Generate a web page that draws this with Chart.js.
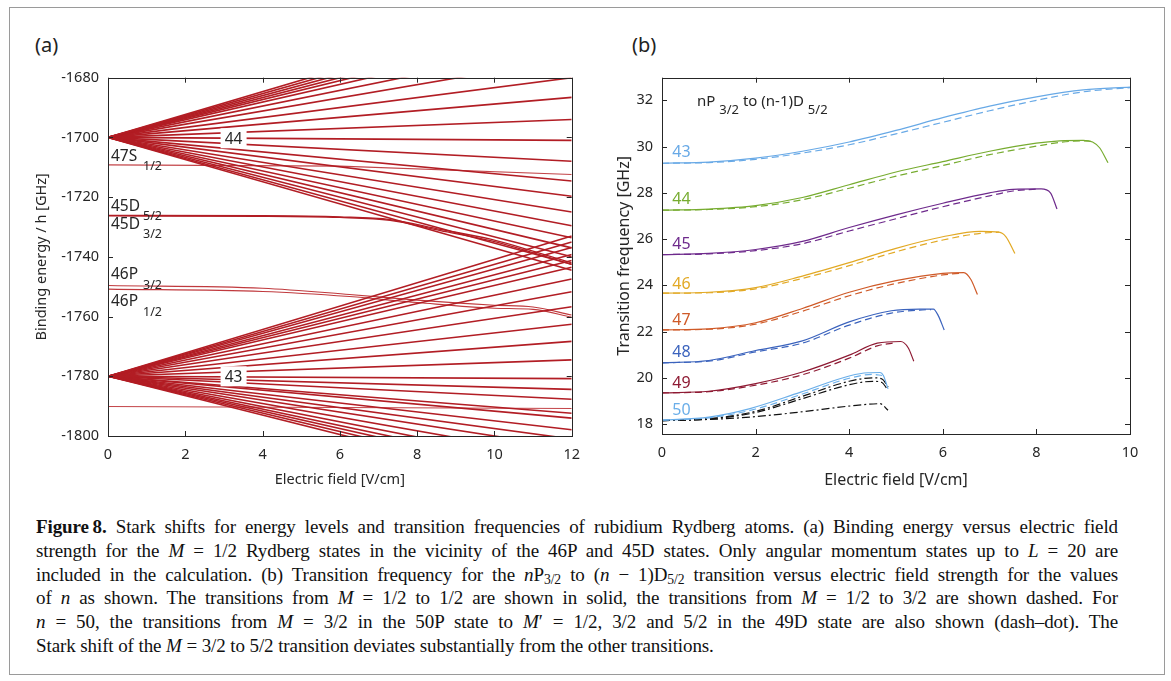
<!DOCTYPE html>
<html lang="en">
<head>
<meta charset="utf-8">
<title>Figure 8 - Stark shifts of Rb Rydberg states</title>
<script src="https://cdn.jsdelivr.net/npm/chart.js"></script>
<style>
  body { margin:0; background:#fff; width:1171px; height:681px; overflow:hidden; position:relative; font-family:"Noto Sans", sans-serif; }
  .frame { position:absolute; left:9px; top:7px; width:1156px; height:668px; border:1.5px solid #9a9a9a; box-sizing:border-box; }
  .wrap { position:absolute; top:60px; height:430px; }
  #wrapA { left:20px; width:570px; }
  #wrapB { left:590px; width:575px; }
  .panel { position:absolute; top:31px; font-size:20px; color:#222; }
  .caption { position:absolute; left:36px; top:515px; width:1082px; font-family:"Liberation Serif", serif; font-size:19px; letter-spacing:-0.1px; line-height:23.8px; color:#111; }
  .caption div { text-align:justify; text-align-last:justify; }
  .caption div.last { text-align-last:left; }
  .caption sub { font-size:0.72em; vertical-align:-0.25em; line-height:0; }
</style>
</head>
<body>
<div class="frame"></div>
<div class="panel" style="left:35px">(a)</div>
<div class="panel" style="left:632px">(b)</div>
<div class="wrap" id="wrapA"><canvas id="chartA" width="570" height="430"></canvas></div>
<div class="wrap" id="wrapB"><canvas id="chartB" width="575" height="430"></canvas></div>

<div class="caption">
  <div><b>Figure&#8201;8.</b> Stark shifts for energy levels and transition frequencies of rubidium Rydberg atoms. (a) Binding energy versus electric field</div>
  <div>strength for the <i>M</i> = 1/2 Rydberg states in the vicinity of the 46P and 45D states. Only angular momentum states up to <i>L</i> = 20 are</div>
  <div>included in the calculation. (b) Transition frequency for the <i>n</i>P<sub>3/2</sub> to (<i>n</i> − 1)D<sub>5/2</sub> transition versus electric field strength for the values</div>
  <div>of <i>n</i> as shown. The transitions from <i>M</i> = 1/2 to 1/2 are shown in solid, the transitions from <i>M</i> = 1/2 to 3/2 are shown dashed. For</div>
  <div><i>n</i> = 50, the transitions from <i>M</i> = 3/2 in the 50P state to <i>M</i>′ = 1/2, 3/2 and 5/2 in the 49D state are also shown (dash–dot). The</div>
  <div class="last">Stark shift of the <i>M</i> = 3/2 to 5/2 transition deviates substantially from the other transitions.</div>
</div>

<script>
// ---------- panel (a): binding energy vs field ----------
const fieldEnd = 12;
const fan44Center = -1700;
// value of each manifold line at 12 V/cm (lines leaving the box get clipped)
const fan44Ends = [-1654, -1656, -1658, -1660, -1662, -1664.5, -1668.5, -1673.5, -1680, -1686.6, -1694, -1701,
                   -1708, -1714.6, -1719.7, -1725, -1729.6, -1733.6, -1737, -1740, -1742.5, -1744.5];
const fan43Center = -1780;
const fan43Ends = [-1733, -1735, -1736.9, -1739.2, -1741.2, -1743.5, -1747.4, -1751.7, -1756.7, -1762.6, -1768.3, -1774.5, -1780.8,
                   -1784.4, -1787.7, -1792.4, -1794, -1797.9, -1801, -1804, -1807.4, -1810.5, -1813, -1815, -1817, -1819];

const s47E = [0, 6, 12];
const s47V = [-1709.2, -1709.6, -1712.4];
const d45E = [0, 4, 6, 7.3, 8.6, 9.9, 11.1, 12];
const d45aV = [-1726.1, -1726.2, -1726.6, -1727.5, -1730.8, -1734.1, -1738.5, -1742];
const d45bV = [-1726.3, -1726.4, -1726.8, -1727.8, -1731.2, -1734.6, -1739, -1742.6];
const p46E = [0, 4, 6.25, 8, 10, 11, 12];
const p46aV = [-1749.6, -1750.5, -1752.6, -1754.5, -1756.2, -1756.8, -1759.5];
const p46bV = [-1750.8, -1751.6, -1753.3, -1755.3, -1757.2, -1757.6, -1760.2];
const lowE = [0, 12];
const lowV = [-1790.1, -1790.8];

const fanLabelText = ['44', '43'];
const fanLabelE = [3.25, 3.25];
const fanLabelV = [-1700.3, -1780];
const stateMain = ['47S', '45D', '45D', '46P', '46P'];
const stateMainV = [-1706.5, -1723.1, -1729.2, -1746.1, -1755];
const stateSub = ['1/2', '5/2', '3/2', '3/2', '1/2'];
const stateSubV = [-1709.6, -1726.4, -1732.5, -1749.6, -1758.5];

const yTicksA = [-1800, -1780, -1760, -1740, -1720, -1700, -1680];
const xTicksA = [0, 2, 4, 6, 8, 10, 12];

// ---------- panel (b): transition frequency vs field ----------
const e43 = [0, 1, 2, 3, 4, 5, 6, 7, 8, 9, 10];
const f43 = [29.28, 29.33, 29.5, 29.8, 30.2, 30.7, 31.25, 31.75, 32.15, 32.45, 32.57];
const f43d = [29.28, 29.31, 29.45, 29.72, 30.08, 30.55, 31.05, 31.55, 32.0, 32.37, 32.55];

const e44 = [0, 1, 2, 3, 4, 5, 6, 7, 8, 8.5, 9, 9.2, 9.35, 9.53];
const f44 = [27.25, 27.3, 27.45, 27.8, 28.35, 28.9, 29.35, 29.8, 30.15, 30.25, 30.27, 30.2, 29.95, 29.3];
const e44d = [0, 1, 2, 3, 4, 5, 6, 7, 8, 8.5, 9, 9.2];
const f44d = [27.25, 27.28, 27.4, 27.7, 28.2, 28.72, 29.18, 29.65, 30.02, 30.18, 30.25, 30.22];

const e45 = [0, 1, 2, 3, 4, 5, 6, 7, 7.5, 8.1, 8.3, 8.44];
const f45 = [25.33, 25.38, 25.55, 25.9, 26.5, 27.05, 27.55, 28.0, 28.15, 28.17, 28.0, 27.3];
const e45d = [0, 1, 2, 3, 4, 5, 6, 7, 7.5, 8];
const f45d = [25.33, 25.36, 25.5, 25.8, 26.35, 26.88, 27.4, 27.87, 28.08, 28.16];

const e46 = [0, 1, 2, 3, 4, 5, 6, 6.8, 7.2, 7.35, 7.54];
const f46 = [23.66, 23.7, 23.9, 24.4, 24.98, 25.6, 26.1, 26.33, 26.3, 26.1, 25.38];
const e46d = [0, 1, 2, 3, 4, 5, 6, 6.8, 7.2];
const f46d = [23.66, 23.68, 23.85, 24.3, 24.85, 25.45, 25.96, 26.25, 26.3];

const e47 = [0, 1, 2, 3, 4, 5, 6, 6.45, 6.6, 6.74];
const f47 = [22.07, 22.12, 22.38, 23.0, 23.7, 24.2, 24.52, 24.55, 24.25, 23.6];
const e47d = [0, 1, 2, 3, 4, 5, 6, 6.4];
const f47d = [22.07, 22.1, 22.32, 22.88, 23.55, 24.08, 24.45, 24.53];

const e48 = [0, 1, 2, 3, 4, 4.9, 5.5, 5.8, 5.9, 6.03];
const f48 = [20.65, 20.75, 21.18, 21.6, 22.42, 22.9, 22.97, 22.97, 22.7, 22.07];
const e48d = [0, 1, 2, 3, 4, 4.9, 5.5, 5.75];
const f48d = [20.65, 20.72, 21.12, 21.5, 22.28, 22.8, 22.93, 22.95];

const e49 = [0, 1, 2, 3, 4, 4.6, 5.1, 5.26, 5.38];
const f49 = [19.35, 19.42, 19.75, 20.25, 20.98, 21.5, 21.57, 21.3, 20.72];
const e49d = [0, 1, 2, 3, 4, 4.6, 5.0];
const f49d = [19.35, 19.4, 19.68, 20.13, 20.85, 21.38, 21.52];

const e50 = [0, 1, 1.88, 2.95, 4.02, 4.4, 4.66, 4.73, 4.83];
const f50 = [18.17, 18.3, 18.67, 19.37, 20.09, 20.22, 20.23, 20.1, 19.52];
const e50d = [0, 1, 2, 3, 4, 4.5, 4.7];
const f50d = [18.17, 18.27, 18.65, 19.3, 19.98, 20.15, 20.1];
// M=3/2 -> M'=1/2, 3/2, 5/2 (dash-dot)
const e50a = [0, 1, 2, 3, 4, 4.5, 4.7, 4.83];
const f50a = [18.15, 18.23, 18.55, 19.2, 19.85, 20.0, 19.95, 19.6];
const e50b = [0, 1, 2, 3, 4, 4.5, 4.7, 4.8];
const f50b = [18.15, 18.22, 18.5, 19.1, 19.7, 19.85, 19.8, 19.55];
const e50c = [0, 1, 1.88, 2.95, 4.02, 4.66, 4.83];
const f50c = [18.15, 18.2, 18.3, 18.52, 18.78, 18.88, 18.6];

const nLabels = ['43', '44', '45', '46', '47', '48', '49', '50'];
const nLabelV = [29.74, 27.7, 25.76, 24.03, 22.5, 21.08, 19.76, 18.57];
const nColors = ['#68a9e6', '#77ac30', '#6e2a8c', '#e2a925', '#cf5a28', '#3b63bd', '#8e1a33', '#6aaee9'];

const yTicksB = [18, 20, 22, 24, 26, 28, 30, 32];
const xTicksB = [0, 2, 4, 6, 8, 10];

// ---------- helpers ----------
const ink = '#262626';
const red = '#b21d24';
Chart.defaults.font.family = '"Noto Sans", sans-serif';
Chart.defaults.font.size = 14;
Chart.defaults.color = ink;

function pts(xs, ys) { return xs.map((x, i) => ({x: x, y: ys[i]})); }

function line(data, color, width, dash, curved) {
  return { data: data, borderColor: color, borderWidth: width, borderDash: dash || [],
           pointRadius: 0, fill: false, tension: 0,
           cubicInterpolationMode: curved ? 'monotone' : 'default' };
}

// box with inward ticks on all four sides
const frameTicks = {
  id: 'frameTicks',
  afterDraw(chart) {
    const {ctx, chartArea: a, scales: {x, y}} = chart;
    ctx.save();
    ctx.strokeStyle = ink;
    ctx.lineWidth = 1;
    ctx.strokeRect(Math.round(a.left) + 0.5, Math.round(a.top) + 0.5, Math.round(a.width), Math.round(a.height));
    ctx.beginPath();
    x.ticks.forEach(t => {
      const px = Math.round(x.getPixelForValue(t.value)) + 0.5;
      ctx.moveTo(px, a.bottom); ctx.lineTo(px, a.bottom - 5);
      ctx.moveTo(px, a.top); ctx.lineTo(px, a.top + 5);
    });
    y.ticks.forEach(t => {
      const py = Math.round(y.getPixelForValue(t.value)) + 0.5;
      ctx.moveTo(a.left, py); ctx.lineTo(a.left + 5, py);
      ctx.moveTo(a.right, py); ctx.lineTo(a.right - 5, py);
    });
    ctx.stroke();
    ctx.restore();
  }
};

function axes(xTicks, yTicks, xr, yr, yTitle, yWidth, xHeight, yTitlePad, titleSize) {
  const lh = titleSize * 1.2 / 2;
  return {
    x: {
      type: 'linear', min: xr[0], max: xr[1],
      afterBuildTicks: s => { s.ticks = xTicks.map(v => ({value: v})); },
      afterFit: s => { s.height = xHeight; },
      grid: {display: false, drawTicks: false}, border: {display: false},
      ticks: {padding: 10, callback: v => String(v), font: {size: 14.5}},
      title: {display: true, text: 'Electric field [V/cm]', font: {size: titleSize}, padding: {top: 0, bottom: 10 - lh}}
    },
    y: {
      type: 'linear', min: yr[0], max: yr[1],
      afterBuildTicks: s => { s.ticks = yTicks.map(v => ({value: v})); },
      afterFit: s => { s.width = yWidth; },
      grid: {display: false, drawTicks: false}, border: {display: false},
      ticks: {padding: 9, callback: v => String(v), font: {size: 14.5}},
      title: {display: true, text: yTitle, font: {size: titleSize}, padding: {top: yTitlePad - lh, bottom: 0}}
    }
  };
}

// ---------- chart (a) ----------
const dsA = [];
fan44Ends.forEach(v => dsA.push(line(pts([0, fieldEnd], [fan44Center, v]), red, 1.6)));
fan43Ends.forEach(v => dsA.push(line(pts([0, fieldEnd], [fan43Center, v]), red, 1.6)));
dsA.push(line(pts(s47E, s47V), 'rgba(185,35,40,0.85)', 1.1));
dsA.push(line(pts(d45E, d45aV), red, 1.3, null, true));
dsA.push(line(pts(d45E, d45bV), red, 1.3, null, true));
dsA.push(line(pts(p46E, p46aV), 'rgba(185,35,40,0.9)', 1.1, null, true));
dsA.push(line(pts(p46E, p46bV), 'rgba(185,35,40,0.9)', 1.1, null, true));
dsA.push(line(pts(lowE, lowV), 'rgba(185,35,40,0.85)', 1.1));

const labelsA = {
  id: 'labelsA',
  afterDatasetsDraw(chart) {
    const {ctx, chartArea: a, scales: {x, y}} = chart;
    ctx.save();
    ctx.textBaseline = 'middle';
    ctx.font = '15.5px "Noto Sans"';
    fanLabelText.forEach((t, i) => {
      const px = x.getPixelForValue(fanLabelE[i]);
      const py = y.getPixelForValue(fanLabelV[i]);
      ctx.fillStyle = '#fff';
      ctx.fillRect(px - 13, py - 10, 26, 20);
      ctx.fillStyle = ink;
      ctx.textAlign = 'center';
      ctx.fillText(t, px, py + 1);
    });
    ctx.textAlign = 'left';
    stateMain.forEach((t, i) => {
      ctx.font = '15.5px "Noto Sans"';
      ctx.fillText(t, a.left + 3, y.getPixelForValue(stateMainV[i]));
      ctx.font = '12.5px "Noto Sans"';
      ctx.fillText(stateSub[i], a.left + 35, y.getPixelForValue(stateSubV[i]));
    });
    ctx.restore();
  }
};

new Chart(document.getElementById('chartA'), {
  type: 'line',
  data: {datasets: dsA},
  options: {
    responsive: false, animation: false, events: [],
    layout: {padding: {top: 13, right: 17, left: 0, bottom: 0}},
    plugins: {legend: {display: false}, tooltip: {enabled: false}},
    scales: axes(xTicksA, yTicksA, [0, 12], [-1800, -1680], 'Binding energy / h [GHz]', 88, 54, 22, 14.5)
  },
  plugins: [labelsA, frameTicks]
});

// ---------- chart (b) ----------
const dash = [7, 4];
const dashDot = [8, 3, 2, 3];
const solids = [[e43, f43], [e44, f44], [e45, f45], [e46, f46], [e47, f47], [e48, f48], [e49, f49], [e50, f50]];
const dashes = [[e43, f43d], [e44d, f44d], [e45d, f45d], [e46d, f46d], [e47d, f47d], [e48d, f48d], [e49d, f49d], [e50d, f50d]];
const dsB = [];
dashes.forEach((s, i) => dsB.push(line(pts(s[0], s[1]), nColors[i], 1.2, dash, true)));
solids.forEach((s, i) => dsB.push(line(pts(s[0], s[1]), nColors[i], 1.2, null, true)));
dsB.push(line(pts(e50a, f50a), '#111', 1.2, dashDot, true));
dsB.push(line(pts(e50b, f50b), '#111', 1.2, dashDot, true));
dsB.push(line(pts(e50c, f50c), '#111', 1.2, dashDot, true));

const labelsB = {
  id: 'labelsB',
  afterDatasetsDraw(chart) {
    const {ctx, scales: {x, y}} = chart;
    ctx.save();
    ctx.textBaseline = 'middle';
    ctx.textAlign = 'left';
    ctx.font = '16px "Noto Sans"';
    nLabels.forEach((t, i) => {
      ctx.fillStyle = nColors[i];
      ctx.fillText(t, x.getPixelForValue(0.22), y.getPixelForValue(nLabelV[i]));
    });
    // nP_{3/2} to (n-1)D_{5/2}
    ctx.fillStyle = ink;
    let px = x.getPixelForValue(0.75);
    const py = y.getPixelForValue(31.96);
    const parts = [['nP ', 0], ['3/2', 1], [' to (n-1)D ', 0], ['5/2', 1]];
    parts.forEach(p => {
      ctx.font = p[1] ? '13px "Noto Sans"' : '15px "Noto Sans"';
      ctx.fillText(p[0], px, py + (p[1] ? 9 : 0));
      px += ctx.measureText(p[0]).width;
    });
    ctx.restore();
  }
};

new Chart(document.getElementById('chartB'), {
  type: 'line',
  data: {datasets: dsB},
  options: {
    responsive: false, animation: false, events: [],
    layout: {padding: {top: 12, right: 35, left: 0, bottom: 0}},
    plugins: {legend: {display: false}, tooltip: {enabled: false}},
    scales: axes(xTicksB, yTicksB, [0, 10], [17.57, 32.98], 'Transition frequency [GHz]', 72, 56, 34, 16)
  },
  plugins: [labelsB, frameTicks]
});
</script>
</body>
</html>
